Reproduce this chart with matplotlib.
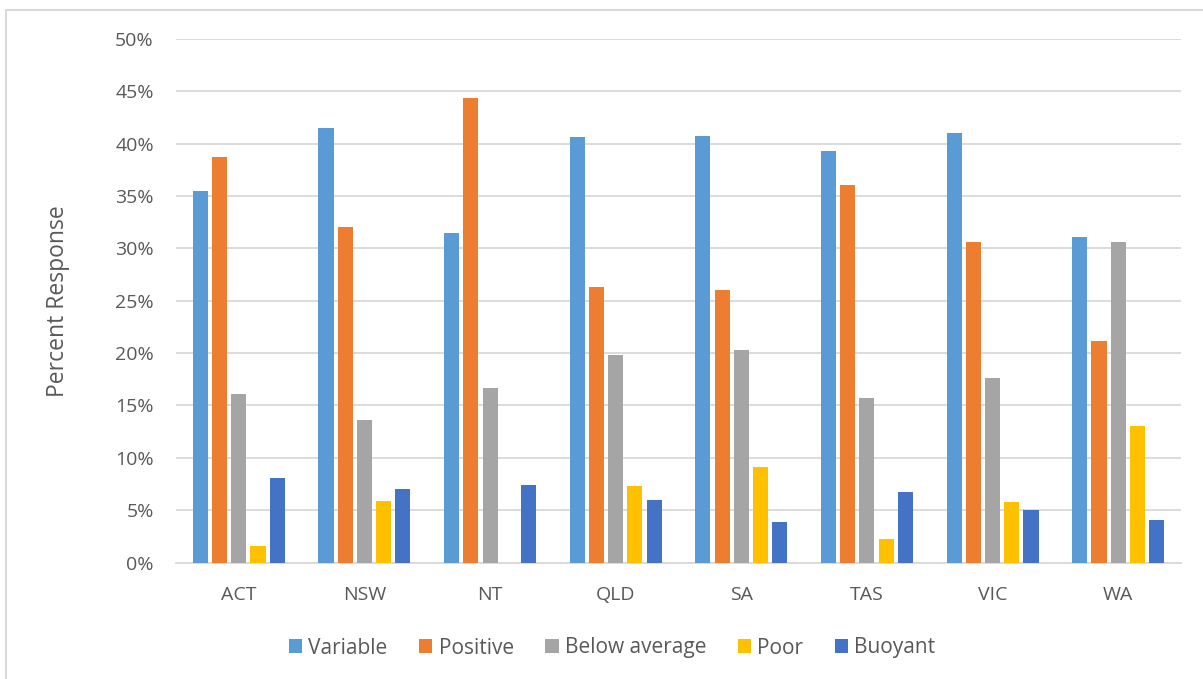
import matplotlib.pyplot as plt
import numpy as np
from matplotlib.patches import Rectangle
from matplotlib.ticker import PercentFormatter

# Survey responses per state/territory (percent)
states = ['ACT', 'NSW', 'NT', 'QLD', 'SA', 'TAS', 'VIC', 'WA']
variable = [35.5, 41.5, 31.5, 40.6, 40.7, 39.3, 41.0, 31.1]
positive = [38.7, 32.0, 44.4, 26.3, 26.0, 36.1, 30.6, 21.2]
below_average = [16.1, 13.6, 16.7, 19.8, 20.3, 15.7, 17.6, 30.6]
poor = [1.6, 5.9, 0.0, 7.3, 9.1, 2.2, 5.8, 13.0]
buoyant = [8.1, 7.0, 7.4, 6.0, 3.9, 6.7, 5.0, 4.1]

series = [
    ('Variable', variable, '#5B9BD5'),
    ('Positive', positive, '#ED7D31'),
    ('Below average', below_average, '#A5A5A5'),
    ('Poor', poor, '#FFC000'),
    ('Buoyant', buoyant, '#4472C4'),
]

plt.rcParams['font.family'] = ['Open Sans', 'DejaVu Sans']
text_color = '#595959'
grid_color = '#D9D9D9'

W, H = 1203, 679
fig = plt.figure(figsize=(W / 100, H / 100), dpi=100)
ax = fig.add_axes([176 / W, 1 - 562.5 / H, (1181 - 176) / W, (562.5 - 39) / H])

# chart border (only top and left edges fall inside the image)
fig.patches.append(Rectangle((6 / W, -0.05), 1.2, 1.05 - 10 / H,
                             transform=fig.transFigure, fill=False,
                             edgecolor='#D9D9D9', linewidth=1.5))

x = np.arange(len(states))
pitch = 0.153
width = 0.12
for i, (name, vals, color) in enumerate(series):
    ax.bar(x + (i - 2) * pitch, vals, width, label=name, color=color,
           edgecolor='none', zorder=3)

ax.set_xlim(-0.5, len(states) - 0.5)
ax.set_ylim(0, 50)
ax.set_yticks(np.arange(0, 51, 5))
ax.yaxis.set_major_formatter(PercentFormatter(decimals=0))
ax.yaxis.grid(True, color=grid_color, linewidth=1.3, zorder=0)
ax.set_axisbelow(True)

ax.set_xticks(x)
ax.set_xticklabels(states)
ax.tick_params(axis='both', length=0, labelsize=14, colors=text_color)
ax.tick_params(axis='y', pad=16)
ax.tick_params(axis='x', pad=17)

for side in ['top', 'right', 'left']:
    ax.spines[side].set_visible(False)
ax.spines['bottom'].set_color(grid_color)
ax.spines['bottom'].set_linewidth(1.3)

ax.set_ylabel('Percent Response', fontsize=16.5, color=text_color)
ax.yaxis.set_label_coords(-106 / 1005, 0.5)

fig.legend(loc='center', bbox_to_anchor=(612 / W, 1 - 648 / H), ncol=5,
           frameon=False, fontsize=15, handlelength=0.65, handleheight=0.65,
           handletextpad=0.3, columnspacing=1.5, labelcolor=text_color)

fig.savefig('out.png', dpi=100)
